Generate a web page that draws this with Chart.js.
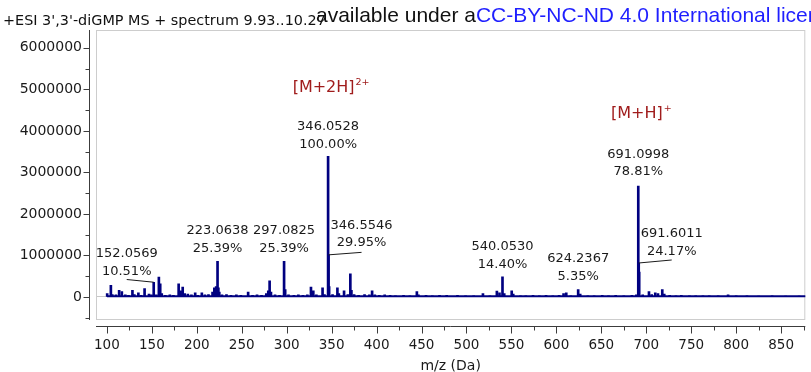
<!DOCTYPE html>
<html><head><meta charset="utf-8">
<script src="https://cdn.jsdelivr.net/npm/chart.js@4.4.1/dist/chart.umd.min.js"></script>
<style>
html,body{margin:0;padding:0;background:#fff;overflow:hidden;}
#wrap{position:relative;width:811px;height:372px;}
#c{position:absolute;left:0;top:0;}
#title{position:absolute;left:3px;top:13px;font-family:'DejaVu Sans';font-size:14.4px;line-height:14.4px;color:#111;white-space:nowrap;}
#wm{position:absolute;left:316px;top:4px;font-family:'Liberation Sans';font-size:21px;line-height:21px;color:#111;white-space:nowrap;}
#wm span{color:#1f1fff;}
</style></head><body>
<div id="wrap">
<canvas id="c" width="811" height="372" style="width:811px;height:372px"></canvas>
<div id="title">+ESI 3',3'-diGMP MS + spectrum 9.93..10.27</div>
<div id="wm">available under a<span>CC-BY-NC-ND 4.0 International license</span></div>
</div>
<script>
// ---- data (m/z, intensity in counts) ----
const peakMz = [100.3,104.4,106.0,110.0,113.6,116.6,120.5,124.0,128.4,130.5,135.0,138.0,141.9,146.8,149.5,152.0569,155.0,157.8,159.3,161.0,165.0,170.0,174.0,179.8,182.0,184.3,186.5,190.0,194.0,198.2,201.0,205.6,209.0,213.0,217.5,219.5,220.5,221.5,223.0638,224.0,225.0,228.0,233.0,238.0,244.0,249.0,257.1,262.0,267.0,272.0,277.3,279.5,281.0,282.5,287.0,292.0,297.0825,298.3,302.0,308.0,313.0,318.0,323.0,327.0,329.6,333.0,339.9,342.0,346.0528,346.5546,347.2,351.0,356.4,358.0,363.8,368.0,370.8,372.0,375.0,380.0,386.6,392.0,395.0,398.0,403.0,409.0,415.0,421.0,430.0,437.0,444.8,446.5,455.0,462.0,470.0,478.0,490.0,499.0,508.0,518.3,526.0,533.8,536.7,540.0530,542.0,550.3,552.0,560.0,566.0,574.0,581.0,588.5,596.0,603.0,608.0,611.0,616.0,624.2367,626.5,635.0,642.0,651.0,658.0,666.0,675.0,684.0,689.0,691.0998,691.6011,692.1,696.0,703.0,706.0,710.0,713.0,717.8,720.0,726.0,733.0,739.0,748.0,755.0,763.0,770.0,780.0,791.0,800.0,812.0,825.0,840.0,855.0,870.0];
const peakInt = [80000,280000,60000,50000,160000,130000,50000,40000,160000,60000,100000,40000,200000,70000,50000,356000,50000,480000,320000,80000,40000,50000,40000,320000,150000,240000,80000,70000,50000,100000,40000,100000,50000,60000,120000,220000,180000,250000,861000,220000,120000,50000,60000,40000,50000,40000,120000,40000,50000,40000,80000,150000,390000,120000,50000,40000,861000,180000,50000,40000,50000,40000,50000,240000,150000,50000,220000,60000,3390000,1015000,250000,60000,220000,80000,150000,60000,560000,160000,60000,40000,60000,50000,150000,50000,40000,50000,40000,30000,40000,30000,130000,50000,40000,30000,40000,40000,40000,30000,30000,80000,30000,140000,100000,488000,80000,150000,70000,30000,30000,40000,30000,40000,30000,40000,80000,100000,30000,181000,70000,30000,30000,40000,30000,40000,30000,40000,50000,2672000,819000,600000,50000,130000,60000,100000,80000,180000,70000,40000,30000,40000,30000,30000,30000,30000,30000,50000,30000,30000,20000,30000,20000,20000];
const baselineMz = [100, 880];
const baselineInt = [15000, 15000];

// axis ticks
const xTickValues = [100,150,200,250,300,350,400,450,500,550,600,650,700,750,800,850];
const yTickValues = [0,1000000,2000000,3000000,4000000,5000000,6000000];

// annotated peaks
const annMz  = [152.0569, 223.0638, 297.0825, 346.0528, 346.5546, 540.0530, 624.2367, 691.0998, 691.6011];
const annPct = ['10.51%','25.39%','25.39%','100.00%','29.95%','14.40%','5.35%','78.81%','24.17%'];
// ion labels
const ionMz     = [346.0528, 691.0998];
const ionText   = ['[M+2H]', '[M+H]'];
const ionCharge = ['2+', '+'];

// ---- layout / style (not data) ----
const annLayout = [
  {dx:-27, dy1:-28.5, dy2:-11, leader:true, ly:-2.7},
  {dx:0, dy1:-30.5, dy2:-12.5},
  {dx:0, dy1:-30.5, dy2:-12.5},
  {dx:0, dy1:-30, dy2:-12},
  {dx:33, dy1:-29.5, dy2:-12, leader:true, ly:-2.5},
  {dx:0, dy1:-30, dy2:-12.5},
  {dx:0, dy1:-31, dy2:-13},
  {dx:0, dy1:-31.5, dy2:-14},
  {dx:33, dy1:-29, dy2:-11, leader:true, ly:-3}
];
const ionLayout = [{dx:3, dy:-68}, {dx:3, dy:-72}];
const FONT = "'DejaVu Sans'";
const NAVY = '#000080';
const X_MINOR = 25, Y_MINOR = 500000;

const specPlugin = {
  id: 'spec',
  beforeDatasetsDraw(chart) {
    const {ctx, chartArea: a} = chart;
    ctx.save();
    ctx.strokeStyle = '#cdcdcd'; ctx.lineWidth = 1;
    ctx.strokeRect(a.left + 0.5, a.top + 0.5, a.right - a.left - 1, a.bottom - a.top - 1);
    ctx.restore();
  },
  afterDatasetsDraw(chart) {
    const {ctx, scales: {x, y}} = chart;
    ctx.save();
    ctx.font = '13px ' + FONT;
    ctx.fillStyle = '#1a1a1a'; ctx.strokeStyle = '#1a1a1a'; ctx.lineWidth = 1;
    ctx.textAlign = 'center'; ctx.textBaseline = 'middle';
    annMz.forEach((m, i) => {
      const idx = peakMz.indexOf(m);
      const px = x.getPixelForValue(m), py = y.getPixelForValue(peakInt[idx]);
      const L = annLayout[i];
      const cx = px + L.dx;
      ctx.fillText(m.toFixed(4), cx, py + L.dy1);
      ctx.fillText(annPct[i], cx, py + L.dy2);
      if (L.leader) {
        ctx.beginPath(); ctx.moveTo(px, py); ctx.lineTo(cx, py + L.ly); ctx.stroke();
      }
    });
    ionMz.forEach((m, i) => {
      const idx = peakMz.indexOf(m);
      const px = x.getPixelForValue(m), py = y.getPixelForValue(peakInt[idx]);
      const L = ionLayout[i];
      ctx.fillStyle = '#a01c1c';
      ctx.font = '16px ' + FONT;
      const w1 = ctx.measureText(ionText[i]).width;
      ctx.font = '9.5px ' + FONT;
      const w2 = ctx.measureText(ionCharge[i]).width;
      const left = px + L.dx - (w1 + 1 + w2) / 2;
      ctx.textAlign = 'left';
      ctx.font = '16px ' + FONT;
      ctx.fillText(ionText[i], left, py + L.dy);
      ctx.font = '9.5px ' + FONT;
      ctx.fillText(ionCharge[i], left + w1 + 1, py + L.dy - 6);
    });
    ctx.restore();
  },
  afterDraw(chart) {
    const {ctx, chartArea: a, scales: {x, y}} = chart;
    ctx.save();
    ctx.strokeStyle = '#3c3c3c'; ctx.lineWidth = 1;
    const ax = a.left - 6.5;
    ctx.beginPath(); ctx.moveTo(ax, a.top); ctx.lineTo(ax, a.bottom); ctx.stroke();
    for (let v = Math.ceil(y.min / Y_MINOR) * Y_MINOR; v <= y.max; v += Y_MINOR) {
      const py = Math.round(y.getPixelForValue(v)) + 0.5;
      const major = yTickValues.includes(v);
      ctx.beginPath(); ctx.moveTo(ax, py); ctx.lineTo(ax - (major ? 6 : 4), py); ctx.stroke();
    }
    const ay = a.bottom + 6.5;
    ctx.beginPath(); ctx.moveTo(a.left, ay); ctx.lineTo(a.right, ay); ctx.stroke();
    for (let v = Math.ceil(x.min / X_MINOR) * X_MINOR; v <= x.max; v += X_MINOR) {
      const px = Math.round(x.getPixelForValue(v)) + 0.5;
      const major = xTickValues.includes(v);
      ctx.beginPath(); ctx.moveTo(px, ay); ctx.lineTo(px, ay + (major ? 7 : 4)); ctx.stroke();
    }
    ctx.restore();
  }
};

new Chart(document.getElementById('c'), {
  data: {
    datasets: [
      {
        type: 'line',
        data: baselineMz.map((m, i) => ({x: m, y: baselineInt[i]})),
        borderColor: NAVY, borderWidth: 2, pointRadius: 0, order: 2
      },
      {
        type: 'bar',
        data: peakMz.map((m, i) => ({x: m, y: peakInt[i]})),
        backgroundColor: NAVY, borderWidth: 0, barThickness: 2, order: 1
      }
    ]
  },
  options: {
    responsive: false, animation: false,
    layout: {padding: {top: 30, left: 0, right: 0, bottom: 0}},
    plugins: {legend: {display: false}, tooltip: {enabled: false}, title: {display: false}},
    scales: {
      x: {
        type: 'linear', min: 87.86, max: 876.9, offset: false,
        afterBuildTicks(s) { s.ticks = xTickValues.map(v => ({value: v})); },
        ticks: {padding: 17, maxRotation: 0, autoSkip: false,
                color: '#1a1a1a', font: {family: FONT, size: 13.5}},
        grid: {display: false, drawTicks: false, offset: false},
        border: {display: false},
        title: {display: true, text: 'm/z (Da)', color: '#1a1a1a', font: {family: FONT, size: 14}, padding: {top: 0, bottom: -3}},
        afterFit(s) { s.height = 52; }
      },
      y: {
        type: 'linear', min: -554000, max: 6430000,
        afterBuildTicks(s) { s.ticks = yTickValues.map(v => ({value: v})); },
        ticks: {padding: 14, color: '#1a1a1a',
                font: {family: FONT, size: 14}, callback: v => String(v)},
        grid: {drawTicks: false, color: c => (c.tick && c.tick.value === 0) ? '#c8c8c8' : 'rgba(0,0,0,0)'},
        border: {display: false},
        afterFit(s) { s.width = 96; }
      }
    }
  },
  plugins: [specPlugin]
});
</script>
</body></html>
